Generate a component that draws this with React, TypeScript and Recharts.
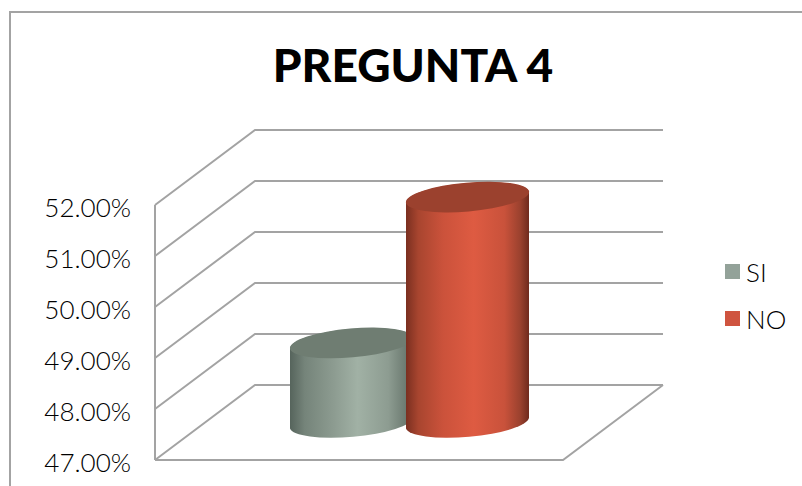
import { BarChart, Bar, XAxis, YAxis, CartesianGrid, Legend } from "recharts";

const categories = ["PREGUNTA 4"];
const siValues = [48.57];
const noValues = [51.43];
const yTicks = [47, 48, 49, 50, 51, 52];

const data = categories.map((name, i) => ({ name, SI: siValues[i], NO: noValues[i] }));

const GRID = "#a3a3a3";
const FONT = "Lato, sans-serif";
// fake 3D: depth of the floor, and how far the columns sit into it
const DEPTH_X = 100;
const DEPTH_Y = 75;
const TILT = 5.5;

function WallLine(props: any) {
  const { x1, x2, y1 } = props;
  const isFloor = y1 > 455;
  return (
    <g fill="none" stroke={GRID} strokeWidth={2}>
      <polyline points={`${x1},${y1} ${x1 + DEPTH_X},${y1 - DEPTH_Y} ${x2 + DEPTH_X},${y1 - DEPTH_Y}`} />
      {isFloor && <polyline points={`${x1},${y1} ${x2},${y1} ${x2 + DEPTH_X},${y1 - DEPTH_Y}`} />}
    </g>
  );
}

function Cylinder(props: any) {
  const { x, y, width, height, gradient, capFill } = props;
  const left = x + 50;
  const right = left + width;
  const top = y - 37;
  const base = y + height - 37;
  const rx = width / 2 + 0.3;
  const ry = 14.5;
  const body =
    `M${left},${top + TILT} L${left},${base + TILT} ` +
    `A${rx},${ry} -5 0 0 ${right},${base - TILT} ` +
    `L${right},${top - TILT} ` +
    `A${rx},${ry} -5 0 0 ${left},${top + TILT} Z`;
  return (
    <g>
      <path d={body} fill={`url(#${gradient})`} />
      <ellipse
        cx={left + width / 2}
        cy={top}
        rx={rx}
        ry={ry}
        fill={capFill}
        transform={`rotate(-5 ${left + width / 2} ${top})`}
      />
    </g>
  );
}

function LegendBox({ payload }: any) {
  const items = [...(payload || [])].sort((a: any, b: any) => (a.value === "SI" ? -1 : b.value === "SI" ? 1 : 0));
  return (
    <div style={{ fontFamily: FONT, fontWeight: 300, fontSize: 26, color: "#000" }}>
      {items.map((p: any) => (
        <div key={p.value} style={{ display: "flex", alignItems: "center", height: 47 }}>
          <span style={{ width: 15, height: 15, background: p.color, marginRight: 6 }} />
          {p.value}
        </div>
      ))}
    </div>
  );
}

export default function App() {
  return (
    <div style={{ position: "absolute", left: 0, top: 0, background: "#fff" }}>
      <BarChart
        width={802}
        height={486}
        data={data}
        barSize={123}
        barGap={-7}
        margin={{ top: 205, right: 162, bottom: 26, left: 0 }}
      >
        <defs>
          <linearGradient id="siFill" x1="0" y1="0" x2="1" y2="0">
            <stop offset="0" stopColor="#56645c" />
            <stop offset="0.12" stopColor="#75847a" />
            <stop offset="0.35" stopColor="#8c9b90" />
            <stop offset="0.55" stopColor="#a1b1a5" />
            <stop offset="0.8" stopColor="#8d9c91" />
            <stop offset="1" stopColor="#5f6d64" />
          </linearGradient>
          <linearGradient id="noFill" x1="0" y1="0" x2="1" y2="0">
            <stop offset="0" stopColor="#7a2f20" />
            <stop offset="0.1" stopColor="#a8452f" />
            <stop offset="0.3" stopColor="#cb523b" />
            <stop offset="0.55" stopColor="#de5b42" />
            <stop offset="0.8" stopColor="#c9523b" />
            <stop offset="0.93" stopColor="#9a412e" />
            <stop offset="1" stopColor="#6f2a1d" />
          </linearGradient>
        </defs>
        <path d="M10,486 V12 H802" fill="none" stroke={GRID} strokeWidth={2} />
        <text x={413} y={82} textAnchor="middle" fontFamily={FONT} fontWeight={900} fontSize={46} fill="#000">
          PREGUNTA 4
        </text>
        <CartesianGrid vertical={false} horizontal={(p: any) => <WallLine {...p} />} />
        <XAxis dataKey="name" tick={false} height={0} axisLine={false} tickLine={false} />
        <YAxis
          width={155}
          domain={[47, 52]}
          ticks={yTicks}
          interval={0}
          tickFormatter={(v: number) => `${v.toFixed(2)}%`}
          tick={{ fontFamily: FONT, fontWeight: 300, fontSize: 26, fill: "#000", dy: 3 }}
          tickLine={false}
          tickMargin={18}
          axisLine={{ stroke: GRID, strokeWidth: 2 }}
        />
        <Legend
          layout="vertical"
          align="right"
          verticalAlign="top"
          width={77}
          content={<LegendBox />}
          wrapperStyle={{ left: 725, top: 248, width: 77, right: "auto" }}
        />
        <Bar dataKey="SI" fill="#93a299" isAnimationActive={false} shape={(p: any) => <Cylinder {...p} gradient="siFill" capFill="#6f7d72" />} />
        <Bar dataKey="NO" fill="#cf543f" isAnimationActive={false} shape={(p: any) => <Cylinder {...p} gradient="noFill" capFill="#9b412e" />} />
      </BarChart>
    </div>
  );
}
